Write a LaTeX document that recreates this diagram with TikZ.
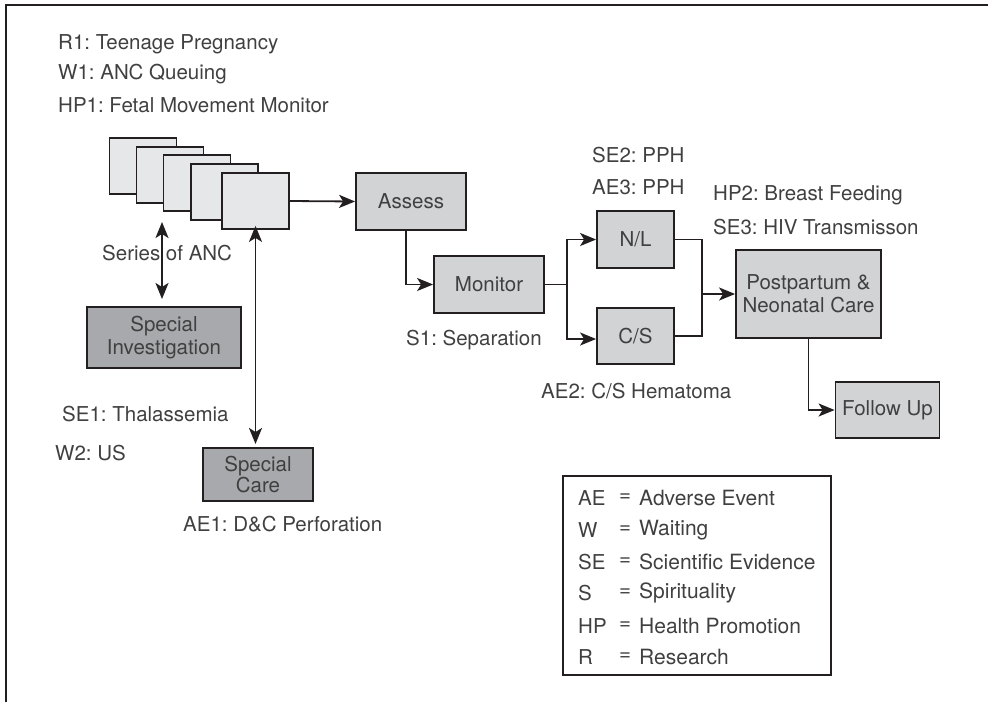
\documentclass[tikz,border=0pt]{standalone}
\usepackage{fontspec}
\setmainfont{TeX Gyre Heros}
\usetikzlibrary{arrows.meta}
\definecolor{txt}{HTML}{404040}
\definecolor{ln}{HTML}{231F20}
\definecolor{light}{HTML}{E6E7E8}
\definecolor{mid}{HTML}{D1D3D4}
\definecolor{dark}{HTML}{A7A9AC}
\tikzset{
  lbl/.style={anchor=west, inner sep=0pt, text=txt, font=\fontsize{20.5}{24}\selectfont},
  boxbase/.style={draw=ln, line width=1.8pt, inner sep=0pt, text=txt, align=center,
     font=\fontsize{20.5}{23}\selectfont},
  ancbox/.style={boxbase, fill=light, minimum width=67pt, minimum height=56pt},
  procbox/.style={boxbase, fill=mid},
  specbox/.style={boxbase, fill=dark},
  conn/.style={draw=ln, line width=1.8pt},
  tip/.tip={Stealth[length=16pt,width=13pt,inset=4pt]},
  arr/.style={conn, -tip},
  darr/.style={conn, tip-tip},
}
\begin{document}
\frenchspacing
\begin{tikzpicture}[x=1pt,y=-1pt]
\useasboundingbox (0,0) rectangle (988,702);
% frame
\draw[ln, line width=2pt] (6,702) -- (6,5) -- (988,5);

% top labels
\node[lbl] (r1) at (58,44) {R1: Teenage Pregnancy};
\node[lbl] (w1) at (58,74) {W1: ANC Queuing};
\node[lbl] (hp1) at (58,105) {HP1: Fetal Movement Monitor};

% stacked ANC boxes
\node[ancbox] (anc1) at (143,166) {};
\node[ancbox] (anc2) at (170,175) {};
\node[ancbox] (anc3) at (197,183) {};
\node[ancbox] (anc4) at (224.5,192) {};
\node[ancbox] (anc5) at (255.5,201) {};

% process boxes
\node[procbox, minimum width=110pt, minimum height=57pt] (assess) at (411,201.5) {Assess};
\node[procbox, minimum width=110pt, minimum height=57pt] (monitor) at (489,284.5) {Monitor};
\node[procbox, minimum width=77pt, minimum height=57pt] (nl) at (635.5,239.5) {N/L};
\node[procbox, minimum width=77pt, minimum height=56pt] (cs) at (635.5,336) {C/S};
\node[procbox, minimum width=145pt, minimum height=88pt] (pp) at (808.5,294) {Postpartum \&\\Neonatal Care};
\node[procbox, minimum width=104pt, minimum height=56pt] (fu) at (887.5,410) {Follow Up};

% special boxes
\node[specbox, minimum width=154pt, minimum height=61pt] (spinv) at (164,337.5) {Special\\Investigation};
\node[specbox, minimum width=110pt, minimum height=53pt, font=\fontsize{20.5}{21}\selectfont] (spcare) at (258,474.5) {Special\\Care};

% connectors
\draw[arr] (anc5.east) -- (assess.west);
\draw[arr] ([xshift=-5pt]assess.south) |- (monitor.west);
\coordinate (split) at (567,284.5);
\draw[conn] (monitor.east) -- (split);
\draw[arr] (split) |- (nl.west);
\draw[arr] (split) |- ([yshift=-3pt]cs.west);
\coordinate (join) at (702,294);
\draw[conn] (nl.east) -| (join);
\draw[conn] (cs.east) -| (join);
\draw[arr] (join) -- (pp.west);
\draw[arr] (pp.south) |- (fu.west);

\coordinate (sa) at (162,222);
\coordinate (sb) at (162,299);
\draw[darr] (sa) -- (sb);
\draw[darr] ([yshift=4pt]anc5.south) -- (anc5.south |- 0,444);

% labels
\node[lbl] (series) at (102,253) {Series of ANC};
\node[lbl] (se2) at (592,155) {SE2: PPH};
\node[lbl] (ae3) at (592,187) {AE3: PPH};
\node[lbl] (hp2) at (713,195) {HP2: Breast Feeding};
\node[lbl] (se3) at (713,227) {SE3: HIV Transmisson};
\node[lbl] (s1) at (406,340) {S1: Separation};
\node[lbl] (ae2) at (541,391) {AE2: C/S Hematoma};
\node[lbl] (se1) at (62,414) {SE1: Thalassemia};
\node[lbl] (w2) at (55,453) {W2: US};
\node[lbl] (ae1) at (183,524) {AE1: D\&C Perforation};

% legend
\node[draw=ln, line width=1.2pt, minimum width=268pt, minimum height=199pt, inner sep=0pt] (legend) at (697,575.5) {};
\foreach \ab/\de/\yy/\nm in {AE/Adverse Event/498/la, W/Waiting/530/lb, SE/Scientific Evidence/562/lc, S/Spirituality/593/ld, HP/Health Promotion/626/le, R/Research/657/lf}{
  \node[lbl] (\nm a) at (578,\yy) {\ab};
  \node[lbl, anchor=center] (\nm e) at (625,\yy) {=};
  \node[lbl, font=\fontsize{21}{24}\selectfont] (\nm d) at (639,\yy) {\de};
}
\end{tikzpicture}
\end{document}
